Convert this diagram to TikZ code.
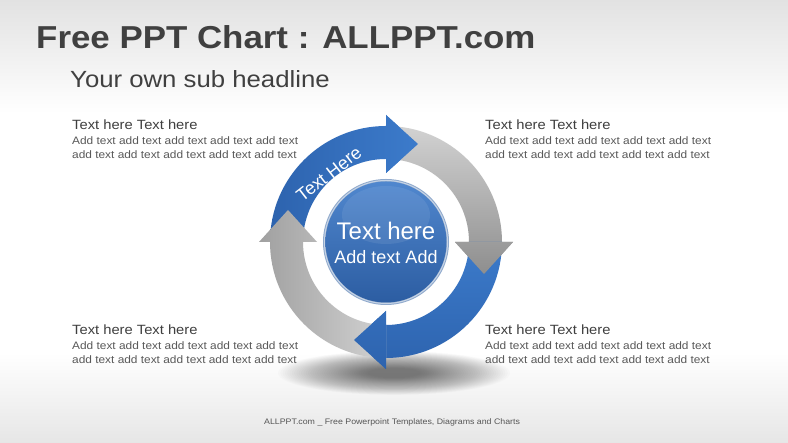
\documentclass[tikz,border=0pt]{standalone}
\usepackage{fontspec}
\setmainfont{Liberation Sans}
\newfontfamily\widefont{Liberation Sans}[FakeStretch=1.1]
\newfontfamily\plainfont{Liberation Sans}
\usetikzlibrary{calc}
\definecolor{bgtop}{HTML}{E2E2E2}
\definecolor{bgbot}{HTML}{E6E6E6}
\definecolor{titlec}{HTML}{404040}
\definecolor{headc}{HTML}{3F3F3F}
\definecolor{bodyc}{HTML}{595959}
\definecolor{footc}{HTML}{555555}
\definecolor{blueD}{HTML}{2D63AE}
\definecolor{blueL}{HTML}{3C7BCB}
\definecolor{grayD}{HTML}{8E8E8E}
\definecolor{grayL}{HTML}{D2D2D2}
\definecolor{grayM}{HTML}{A0A0A0}
\definecolor{sphT}{HTML}{5087CE}
\definecolor{sphB}{HTML}{2C5DA2}
\definecolor{sphRim}{HTML}{8FA9CC}
% ring arrow: #1 tail angle, #2 head base angle, #3 tip direction
\newcommand\ringarrow[3]{($(C)+(#1:116pt)$) arc[start angle=#1, end angle=#2, radius=116pt]
  -- ($(C)+(#2:127pt)$) -- ($(C)+(#2:98pt)+(#3:32pt)$) -- ($(C)+(#2:69pt)$)
  -- ($(C)+(#2:83pt)$) arc[start angle=#2, end angle=#1, radius=83pt] -- cycle}
\newcommand\ringhead[3]{($(C)+(#2:127pt)$) -- ($(C)+(#2:98pt)+(#3:32pt)$) -- ($(C)+(#2:69pt)$) -- cycle}
\tikzset{
  arrowTL/.style={left color=blueD, right color=blueL},
  arrowTR/.style={top color=grayL, bottom color=grayD},
  arrowBR/.style={top color=blueL, bottom color=blueD},
  arrowBL/.style={left color=grayM, right color=grayL},
  txt/.style={anchor=base west, inner sep=0pt},
  headtxt/.style={txt, text=headc, font=\widefont\fontsize{13.4}{16}\selectfont},
  bodytxt/.style={txt, text=bodyc, font=\widefont\fontsize{10.8}{13}\selectfont},
}
\begin{document}
\begin{tikzpicture}[x=1pt, y=1pt]
\useasboundingbox (0,0) rectangle (788,443);
% background
\fill[white] (0,0) rectangle (788,443);
\shade[top color=bgtop, bottom color=white] (0,330) rectangle (788,443);
\shade[top color=white, bottom color=bgbot] (0,0) rectangle (788,90);
\coordinate (C) at (386,201);
% shadow
\foreach \i in {0,...,39}{
  \fill[black, opacity=0.016] (394,70) ellipse [x radius={(116-2.3*\i)*1pt}, y radius={(22-0.45*\i)*1pt}];
}
% ring arrows
\shade[arrowTL] \ringarrow{180}{90}{0};
\shade[arrowTR] \ringarrow{90}{0}{-90};
\shade[arrowBR] \ringarrow{0}{-90}{-180};
\shade[arrowBL] \ringarrow{-90}{-180}{90};
\begin{scope}
  \clip \ringhead{180}{90}{0};
  \shade[arrowTL] \ringarrow{180}{90}{0};
\end{scope}
\begin{scope}
  \clip \ringhead{90}{0}{-90};
  \shade[arrowTR] \ringarrow{90}{0}{-90};
\end{scope}
\begin{scope}
  \clip \ringhead{0}{-90}{-180};
  \shade[arrowBR] \ringarrow{0}{-90}{-180};
\end{scope}
% sphere
\fill[sphRim] (C) circle (63pt);
\shade[top color=sphT, bottom color=sphB] (C) circle (60.5pt);
\fill[white, opacity=0.08] ($(C)+(0,27)$) ellipse [x radius=44pt, y radius=29pt];
\draw[white, opacity=0.5, line width=1pt] (C) circle (61.5pt);
\node[anchor=base, inner sep=0pt, text=white, font=\plainfont\fontsize{24}{28}\selectfont] (sph1) at (386,203) {Text here};
\node[anchor=base, inner sep=0pt, text=white, font=\plainfont\fontsize{18}{21}\selectfont] (sph2) at (386,179.7) {Add text Add};
\node[inner sep=0pt, text=white, rotate=38, font=\plainfont\fontsize{18}{21}\selectfont] (arclbl) at (329,269) {Text Here};
% titles
\node[txt, text=titlec, font=\widefont\bfseries\fontsize{31.7}{36}\selectfont] (title) at (36,394.7) {Free PPT Chart : ALLPPT.com};
\node[txt, text=titlec, font=\widefont\fontsize{23.4}{28}\selectfont] (sub) at (70,355.7) {Your own sub headline};
% text blocks
\node[headtxt] (h1) at (72,313.7) {Text here Text here};
\node[bodytxt] (b1a) at (72,298) {Add text add text add text add text add text};
\node[bodytxt] (b1b) at (72,284.5) {add text add text add text add text add text};
\node[headtxt] (h2) at (485,313.7) {Text here Text here};
\node[bodytxt] (b2a) at (485,298) {Add text add text add text add text add text};
\node[bodytxt] (b2b) at (485,284.5) {add text add text add text add text add text};
\node[headtxt] (h3) at (72,108.7) {Text here Text here};
\node[bodytxt] (b3a) at (72,93) {Add text add text add text add text add text};
\node[bodytxt] (b3b) at (72,79.5) {add text add text add text add text add text};
\node[headtxt] (h4) at (485,108.7) {Text here Text here};
\node[bodytxt] (b4a) at (485,93) {Add text add text add text add text add text};
\node[bodytxt] (b4b) at (485,79.5) {add text add text add text add text add text};
% footer
\node[txt, text=footc, font=\widefont\fontsize{8}{10}\selectfont] (foot) at (264,18) {ALLPPT.com \_ Free Powerpoint Templates, Diagrams and Charts};
\end{tikzpicture}
\end{document}
